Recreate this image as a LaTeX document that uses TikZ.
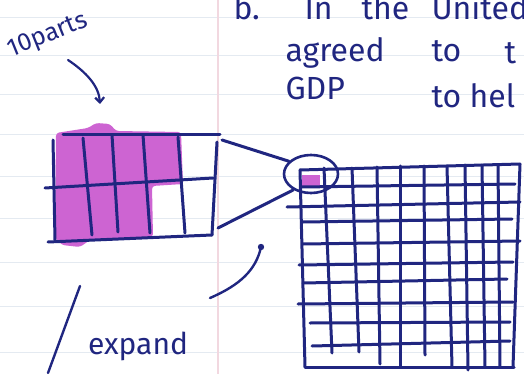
\documentclass[tikz,border=0pt]{standalone}
\usepackage{fontspec}
\setmainfont{Fira Sans}
\usetikzlibrary{arrows.meta,shapes.geometric}
\definecolor{tinta}{RGB}{32,38,128}
\definecolor{rotulador}{RGB}{205,100,210}
\definecolor{renglon}{RGB}{228,234,241}
\definecolor{margen}{RGB}{242,216,224}
\begin{document}
\begin{tikzpicture}[x=1pt, y=-1pt, line width=3pt, line cap=round, line join=round,
  letra/.style={text=tinta, inner sep=0pt, anchor=base west, font=\fontsize{#1}{#1}\selectfont}]
  \useasboundingbox (0,0) rectangle (524,374);
  \clip (0,0) rectangle (524,374);
  % los renglones y el margen
  \foreach \y in {18,56,95,135,176,218,262,306,352}
    \draw[renglon, line width=1pt] (0,\y) -- (524,\y);
  \draw[margen, line width=1.2pt] (218,0) -- (218,374);
  % el texto de arriba, cortado
  \node[letra=32] (b) at (232,20) {b.};
  \node[letra=32] (in) at (303,20) {In};
  \node[letra=32] (the) at (360,20) {the};
  \node[letra=32] (united) at (430,20) {United};
  \node[letra=32] (agreed) at (284,62) {agreed};
  \node[letra=32] (to) at (430,62) {to};
  \node[letra=32] (t) at (503,64) {t};
  \node[letra=32] (gdp) at (284,100) {GDP};
  \node[letra=32] (to2) at (430,108) {to hel};
  % lo pintado con rotulador
  \fill[rotulador, rounded corners=3pt] (56,133) -- (88,128) -- (96,123) -- (110,124)
    -- (116,131) -- (181,132) -- (183,184) -- (152,186) -- (153,237) -- (90,240)
    -- (80,247) -- (62,245) -- (55,238) -- cycle;
  \fill[rotulador] (302,175) rectangle (320,186);
  % la tira de diez partes
  \draw[tinta] (63,135) -- (220,135);
  \draw[tinta] (45,188) -- (213,178);
  \draw[tinta] (48,242) -- (212,235);
  \draw[tinta] (53,140) -- (55,240);
  \draw[tinta] (83,138) -- (92,235);
  \draw[tinta] (112,135) -- (118,232);
  \draw[tinta] (143,135) -- (150,233);
  \draw[tinta] (178,137) -- (185,233);
  \draw[tinta] (217,142) -- (212,235);
  % la cuadricula grande, diez por diez
  \foreach \xa/\ya/\xb/\yb in {300/170/520/164, 302/187/515/184, 287/207/520/202,
      303/222/512/219, 303/244/520/241, 299/265/513/262, 303/283/507/279,
      298/304/513/302, 310/323/510/322, 312/346/510/341, 305/367/514/367}
    \draw[tinta] (\xa,\ya) -- (\xb,\yb);
  \foreach \xa/\ya/\xb/\yb in {300/170/305/367, 324/168/332/353, 352/168/359/352,
      377/167/380/364, 400/166/400/367, 424/166/425/355, 447/166/452/367,
      465/165/468/370, 482/165/485/367, 498/165/500/367, 520/164/513/367}
    \draw[tinta] (\xa,\ya) -- (\xb,\yb);
  % el aro y las lineas que lo abren
  \node[draw=tinta, ellipse, line width=2.6pt, minimum width=54pt, minimum height=38pt,
    inner sep=0pt] (aro) at (311,174) {};
  \coordinate (tira-arriba) at (222,140);
  \coordinate (tira-abajo) at (218,228);
  \draw[tinta] (tira-arriba) -- (aro.150);
  \draw[tinta] (tira-abajo) -- (aro.222);
  % 10parts y su flecha
  \node[letra=25, anchor=center, rotate=22] (partes) at (48,36) {10parts};
  \coordinate (flecha-ini) at (68,60);
  \coordinate (flecha-fin) at (100,104);
  \draw[tinta, line width=2.2pt, -{Straight Barb[length=5pt,width=9pt]}]
    (flecha-ini) .. controls (86,72) and (99,86) .. (flecha-fin);
  % expand, la raya y la curva
  \node[letra=30, anchor=center] (expande) at (138,346) {expand};
  \draw[tinta, line width=2.4pt] (48,373) -- (80,286);
  \coordinate (curva-ini) at (210,298);
  \coordinate (curva-fin) at (261,247);
  \draw[tinta, line width=2.4pt] (curva-ini) .. controls (240,285) and (256,270) .. (curva-fin);
  \fill[tinta] (curva-fin) circle (3.2);
\end{tikzpicture}
\end{document}
